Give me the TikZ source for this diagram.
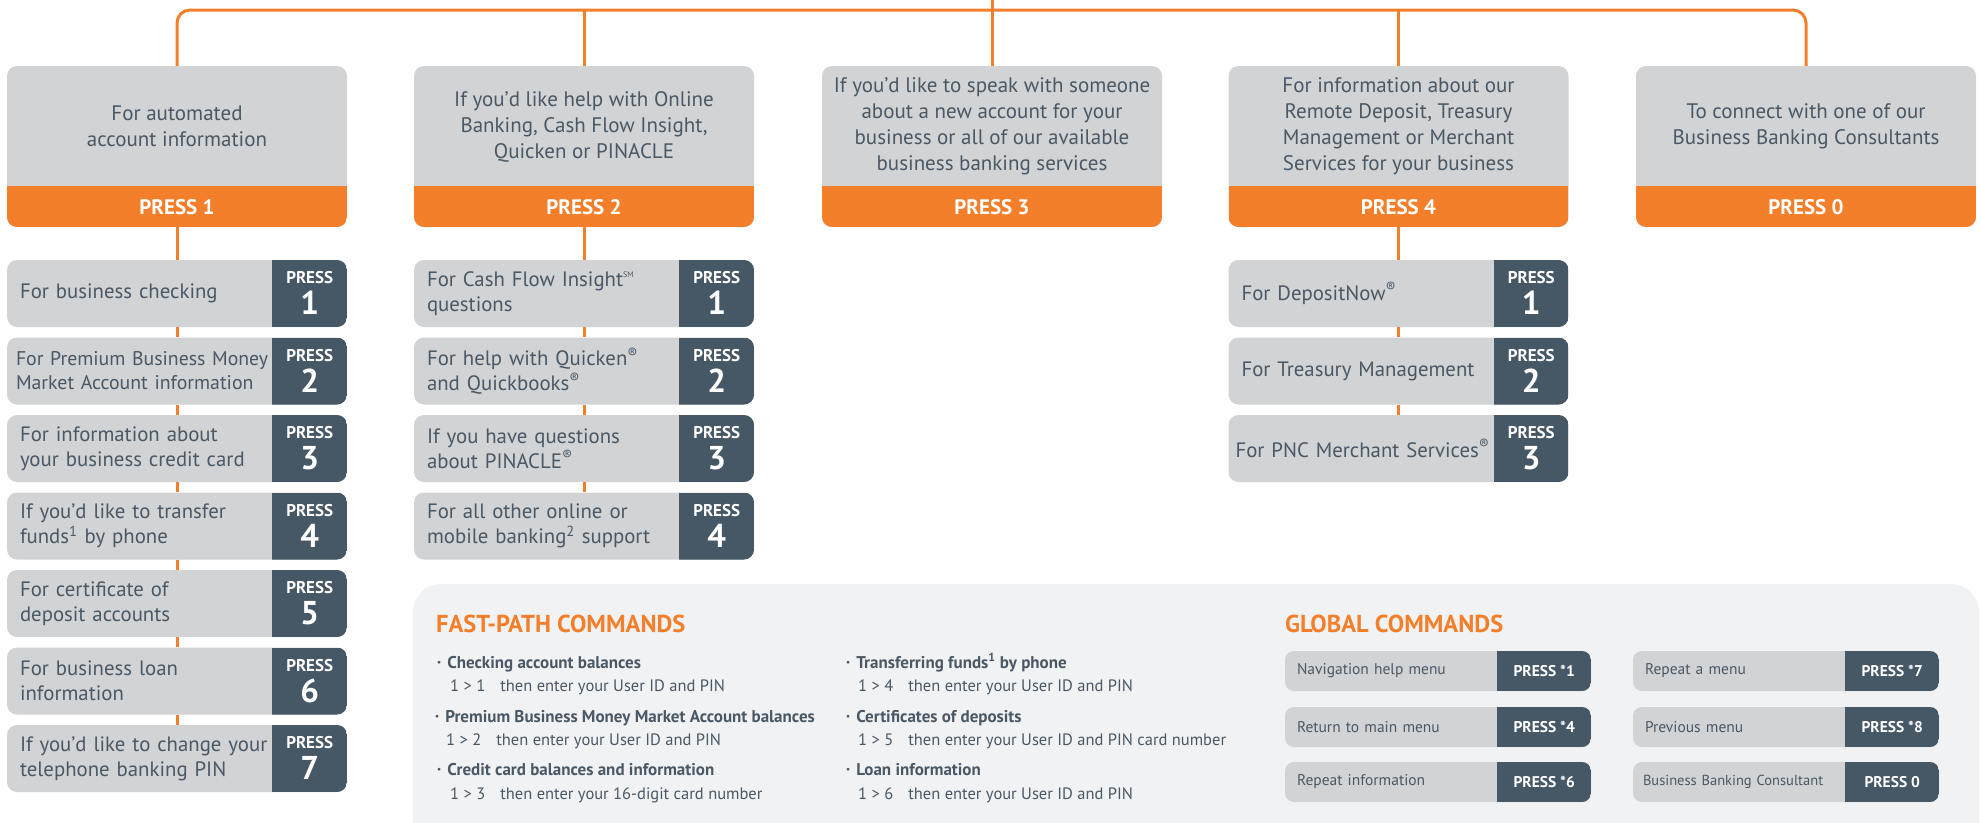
\documentclass[tikz,border=0pt]{standalone}
\usepackage{fontspec}
\setmainfont{PT Sans}
\usetikzlibrary{calc}

\definecolor{pncorange}{HTML}{F37F2B}
\definecolor{boxgrey}{HTML}{D1D3D4}
\definecolor{slate}{HTML}{465765}
\definecolor{inkgrey}{HTML}{4A5865}
\definecolor{panelgrey}{HTML}{F1F2F4}

\newcommand{\fsz}[2]{\fontsize{#1}{#2}\selectfont}
\newcommand{\bul}{{\fsz{9pt}{9pt}\raisebox{2.5pt}{•}}\hspace{6pt}}
\newcommand{\smark}{{\fsz{8pt}{8pt}\raisebox{9pt}{SM}}}

\tikzset{
  wire/.style={draw=pncorange, line width=3pt},
  menubox/.style={fill=boxgrey, rounded corners=10pt, minimum width=340pt, minimum height=161pt, inner sep=0pt,
    path picture={\fill[pncorange, sharp corners] (path picture bounding box.south west) rectangle ([yshift=41pt]path picture bounding box.south east);}},
  menutext/.style={text=inkgrey, align=center, font=\fsz{21pt}{26pt}},
  menukey/.style={text=white, font=\fsz{21pt}{21pt}\bfseries},
  itembox/.style={fill=boxgrey, rounded corners=10pt, minimum width=340pt, minimum height=67pt, inner xsep=13pt, inner ysep=0pt,
    text width=314pt, align=left, text=inkgrey, font=\fsz{20.8pt}{25pt},
    path picture={\fill[slate, sharp corners] ([xshift=-75pt]path picture bounding box.north east) rectangle (path picture bounding box.south east);}},
  keyword/.style={anchor=base, text=white, font=\fsz{17pt}{17pt}\bfseries},
  keydigit/.style={anchor=base, text=white, font=\fsz{33pt}{33pt}\bfseries},
  heading/.style={anchor=base west, inner sep=0pt, text=pncorange, font=\fsz{24.5pt}{25pt}\bfseries},
  fptitle/.style={anchor=base west, inner sep=0pt, text=inkgrey, font=\fsz{17pt}{18pt}\bfseries},
  fpcmd/.style={anchor=base west, inner sep=0pt, text=inkgrey, font=\fsz{16.5pt}{17pt}},
  cmdbox/.style={fill=boxgrey, rounded corners=9pt, minimum width=306pt, minimum height=40pt, inner xsep=12pt, inner ysep=0pt,
    text width=282pt, align=left, text=inkgrey, font=\fsz{15.5pt}{16pt},
    path picture={\fill[slate, sharp corners] ([xshift=-94pt]path picture bounding box.north east) rectangle (path picture bounding box.south east);}},
  cmdkey/.style={text=white, font=\fsz{15.5pt}{16pt}\bfseries}
}

\begin{document}
\begin{tikzpicture}[x=1pt, y=-1pt]
  \useasboundingbox (0,0) rectangle (1981,822);

  \fill[panelgrey, rounded corners=28pt] (413,870) -- (413,584) -- (1979,584) -- (1979,870) -- cycle;

  \node[menubox] (m1) at (177,146.5) {};
  \node[menubox] (m2) at (584,146.5) {};
  \node[menubox] (m3) at (992,146.5) {};
  \node[menubox] (m4) at (1398.5,146.5) {};
  \node[menubox] (m5) at (1806,146.5) {};

  \node[menutext] (m1t) at (177,126.5) {For automated\\account information};
  \node[menutext] (m2t) at (584,126.5) {If you’d like help with Online\\Banking, Cash Flow Insight,\\Quicken or PINACLE};
  \node[menutext] (m3t) at (992,126.5) {If you’d like to speak with someone\\about a new account for your\\business or all of our available\\business banking services};
  \node[menutext] (m4t) at (1398.5,126.5) {For information about our\\Remote Deposit, Treasury\\Management or Merchant\\Services for your business};
  \node[menutext] (m5t) at (1806,126.5) {To connect with one of our\\Business Banking Consultants};

  \node[menukey] (m1k) at (177,207) {PRESS 1};
  \node[menukey] (m2k) at (584,207) {PRESS 2};
  \node[menukey] (m3k) at (992,207) {PRESS 3};
  \node[menukey] (m4k) at (1398.5,207) {PRESS 4};
  \node[menukey] (m5k) at (1806,207) {PRESS 0};

  \coordinate (hub) at (992,10);
  \coordinate (src) at (992,0);
  \draw[wire, rounded corners=13pt] (m1.north) |- (hub) -| (m5.north);
  \draw[wire] (src) -- (m3.north);
  \draw[wire] (m2.north |- hub) -- (m2.north);
  \draw[wire] (m4.north |- hub) -- (m4.north);

  \node[itembox] (c11) at (177,293.5) {For business checking};
  \node[itembox, font=\fsz{19.8pt}{24pt}] (c12) at (177,371) {\hspace*{-4pt}For Premium Business Money\\\hspace*{-4pt}Market Account information};
  \node[itembox] (c13) at (177,448.5) {For information about\\your business credit card};
  \node[itembox] (c14) at (177,526) {If you’d like to transfer\\funds\textsuperscript{1} by phone};
  \node[itembox] (c15) at (177,603.5) {For certificate of\\deposit accounts};
  \node[itembox] (c16) at (177,681) {For business loan\\information};
  \node[itembox] (c17) at (177,758.5) {If you’d like to change your\\telephone banking PIN};

  \node[itembox] (c21) at (584,293.5) {For Cash Flow Insight\smark\\questions};
  \node[itembox] (c22) at (584,371) {For help with Quicken\textsuperscript{®}\\and Quickbooks\textsuperscript{®}};
  \node[itembox] (c23) at (584,448.5) {If you have questions\\about PINACLE\textsuperscript{®}};
  \node[itembox] (c24) at (584,526) {For all other online or\\mobile banking\textsuperscript{2} support};

  \node[itembox] (c41) at (1398.5,293.5) {For DepositNow\textsuperscript{®}};
  \node[itembox] (c42) at (1398.5,371) {For Treasury Management};
  \node[itembox] (c43) at (1398.5,448.5) {\hspace*{-6pt}For PNC Merchant Services\textsuperscript{®}};

  \foreach \a/\b in {m1/c11,c11/c12,c12/c13,c13/c14,c14/c15,c15/c16,c16/c17,m2/c21,c21/c22,c22/c23,c23/c24,m4/c41,c41/c42,c42/c43}
    \draw[wire] (\a.south) -- (\b.north);

  \foreach \n/\k in {c11/1,c12/2,c13/3,c14/4,c15/5,c16/6,c17/7,c21/1,c22/2,c23/3,c24/4,c41/1,c42/2,c43/3}{
    \node[keyword] (\n-w) at ([xshift=-37.5pt,yshift=-24pt]\n.north east) {PRESS};
    \node[keydigit] (\n-d) at ([xshift=-37.5pt,yshift=-55pt]\n.north east) {\k};
  }

  \node[heading] (fph) at (436,632) {FAST-PATH COMMANDS};
  \node[fptitle] (fa1) at (437,668) {\bul Checking account balances};
  \node[fpcmd] (fa1c) at (450,691) {1 > 1\hspace{15pt}then enter your User ID and PIN};
  \node[fptitle] (fa2) at (435,722) {\bul Premium Business Money Market Account balances};
  \node[fpcmd] (fa2c) at (446,745) {1 > 2\hspace{15pt}then enter your User ID and PIN};
  \node[fptitle] (fa3) at (437,775) {\bul Credit card balances and information};
  \node[fpcmd] (fa3c) at (450,799) {1 > 3\hspace{15pt}then enter your 16-digit card number};

  \node[fptitle] (fb1) at (846,668) {\bul Transferring funds\textsuperscript{1} by phone};
  \node[fpcmd] (fb1c) at (858,691) {1 > 4\hspace{15pt}then enter your User ID and PIN};
  \node[fptitle] (fb2) at (846,722) {\bul Certificates of deposits};
  \node[fpcmd] (fb2c) at (858,745) {1 > 5\hspace{15pt}then enter your User ID and PIN card number};
  \node[fptitle] (fb3) at (846,775) {\bul Loan information};
  \node[fpcmd] (fb3c) at (858,799) {1 > 6\hspace{15pt}then enter your User ID and PIN};

  \node[heading] (glh) at (1285,632) {GLOBAL COMMANDS};
  \node[cmdbox] (g1) at (1438,671) {Navigation help menu};
  \node[cmdbox] (g2) at (1438,727) {Return to main menu};
  \node[cmdbox] (g3) at (1438,782) {Repeat information};
  \node[cmdbox] (g4) at (1786,671) {Repeat a menu};
  \node[cmdbox] (g5) at (1786,727) {Previous menu};
  \node[cmdbox, font=\fsz{14.5pt}{15pt}] (g6) at (1786,782) {\hspace*{-2pt}Business Banking Consultant};

  \foreach \n/\k in {g1/*1,g2/*4,g3/*6,g4/*7,g5/*8,g6/0}
    \node[cmdkey] (\n-k) at ([xshift=-47pt]\n.east) {PRESS \k};
\end{tikzpicture}
\end{document}
